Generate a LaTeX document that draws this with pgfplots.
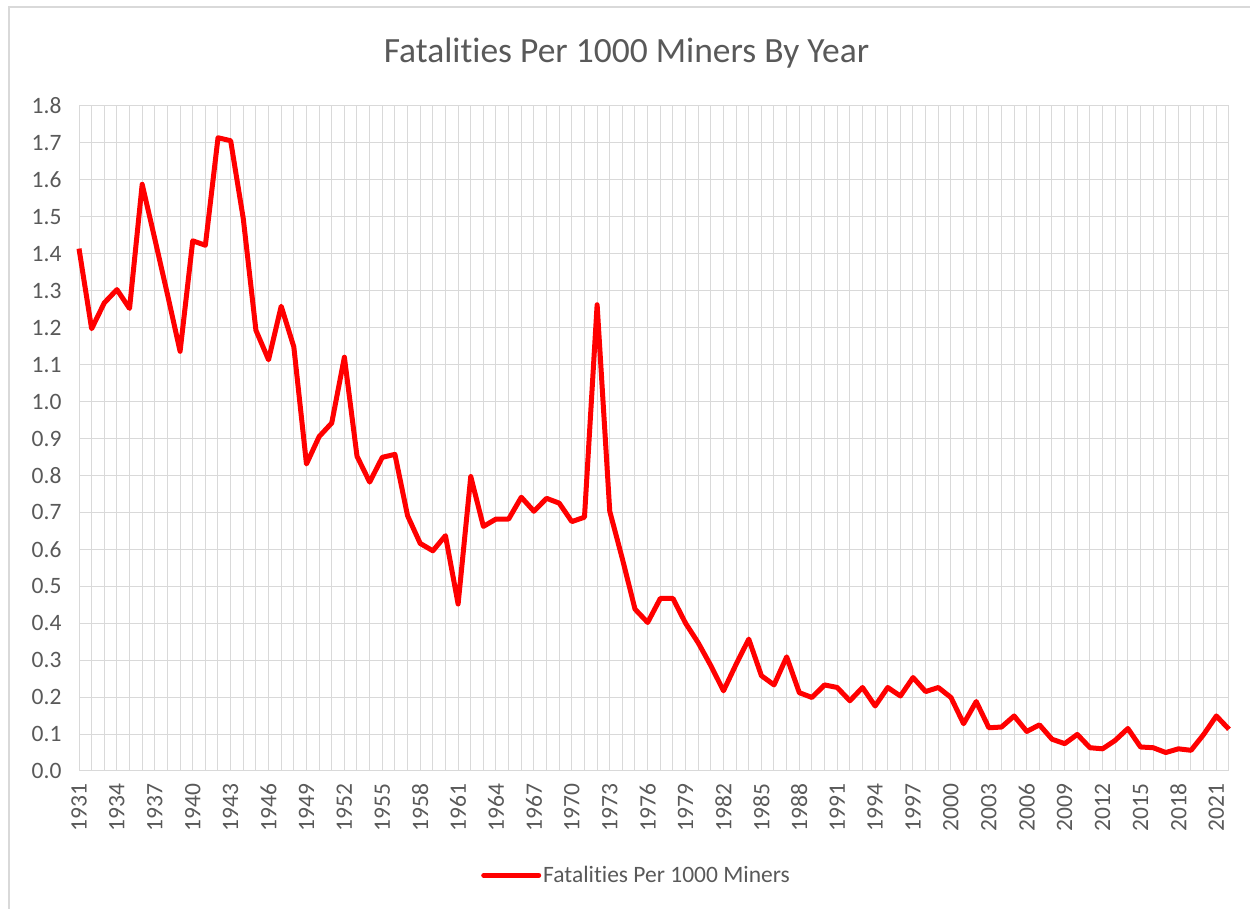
\documentclass[border=0pt]{standalone}
\usepackage{pgfplots}
\pgfplotsset{compat=1.18}
\usepackage{fontspec}
\setmainfont{Carlito}[Ligatures={NoCommon}]
\definecolor{txt}{HTML}{595959}
\definecolor{grd}{HTML}{D9D9D9}
\begin{document}
\begin{tikzpicture}
\path[use as bounding box] (0pt,0pt) rectangle (1250pt,909pt);
\draw[grd, line width=1.5pt] (9pt,0pt) -- (9pt,902pt) -- (1250pt,902pt);
\node[text=txt, font=\fontsize{35.5}{42}\selectfont, anchor=base] at (626.5pt,846pt) {Fatalities Per 1000 Miners By Year};
\begin{axis}[
  at={(79pt,138pt)}, anchor=south west,
  scale only axis, width=1150pt, height=665pt,
  xmin=1931, xmax=2022, ymin=0, ymax=1.8,
  clip=false,
  xtick={1931,1934,...,2021},
  minor xtick={1931,...,2022},
  ytick={0,0.1,0.2,0.3,0.4,0.5,0.6,0.7,0.8,0.9,1.0,1.1,1.2,1.3,1.4,1.5,1.6,1.7,1.8},
  xmajorgrids=false, xminorgrids=true, ymajorgrids=true,
  major grid style={grd, line width=1pt},
  minor grid style={grd, line width=1pt},
  axis line style={grd, line width=1pt},
  major tick length=0pt, minor tick length=0pt,
  tick style={draw=none},
  /pgf/number format/assume math mode=true,
  xticklabel style={/pgf/number format/1000 sep={}, rotate=90, anchor=east, font=\fontsize{23.5}{28}\selectfont, text=txt},
  yticklabel style={/pgf/number format/fixed, /pgf/number format/fixed zerofill, /pgf/number format/precision=1, font=\fontsize{23.5}{28}\selectfont, text=txt},
  xticklabel shift=9pt,
  yticklabel shift=14pt,
  legend style={draw=none, fill=none, at={(0.3496,-0.157)}, anchor=west, inner sep=0pt,
    font=\fontsize{23.5}{28}\selectfont, text=txt, nodes={inner sep=2pt}},
  legend image code/.code={\draw[red, line width=5pt, line cap=round] (0pt,0pt) -- (55pt,0pt);},
]
\addplot[red, line width=5pt, line join=round] coordinates {
(1931,1.414) (1932,1.197) (1933,1.267) (1934,1.303) (1935,1.252) (1936,1.588)
(1937,1.44) (1938,1.29) (1939,1.136) (1940,1.435) (1941,1.423) (1942,1.714)
(1943,1.706) (1944,1.495) (1945,1.193) (1946,1.113) (1947,1.258) (1948,1.148)
(1949,0.831) (1950,0.905) (1951,0.942) (1952,1.120) (1953,0.852) (1954,0.782)
(1955,0.849) (1956,0.857) (1957,0.691) (1958,0.616) (1959,0.596) (1960,0.637)
(1961,0.452) (1962,0.797) (1963,0.662) (1964,0.682) (1965,0.682) (1966,0.741)
(1967,0.703) (1968,0.738) (1969,0.725) (1970,0.675) (1971,0.687) (1972,1.262)
(1973,0.703) (1974,0.574) (1975,0.438) (1976,0.402) (1977,0.467) (1978,0.467)
(1979,0.40) (1980,0.347) (1981,0.285) (1982,0.217) (1983,0.289) (1984,0.357)
(1985,0.258) (1986,0.233) (1987,0.309) (1988,0.212) (1989,0.199) (1990,0.233)
(1991,0.226) (1992,0.190) (1993,0.226) (1994,0.176) (1995,0.226) (1996,0.203)
(1997,0.253) (1998,0.215) (1999,0.226) (2000,0.199) (2001,0.128) (2002,0.188)
(2003,0.117) (2004,0.119) (2005,0.149) (2006,0.107) (2007,0.125) (2008,0.086)
(2009,0.074) (2010,0.099) (2011,0.063) (2012,0.060) (2013,0.083) (2014,0.115)
(2015,0.065) (2016,0.063) (2017,0.050) (2018,0.060) (2019,0.056) (2020,0.099)
(2021,0.149) (2022,0.113)
};
\addlegendentry{Fatalities Per 1000 Miners}
\end{axis}
\end{tikzpicture}
\end{document}
